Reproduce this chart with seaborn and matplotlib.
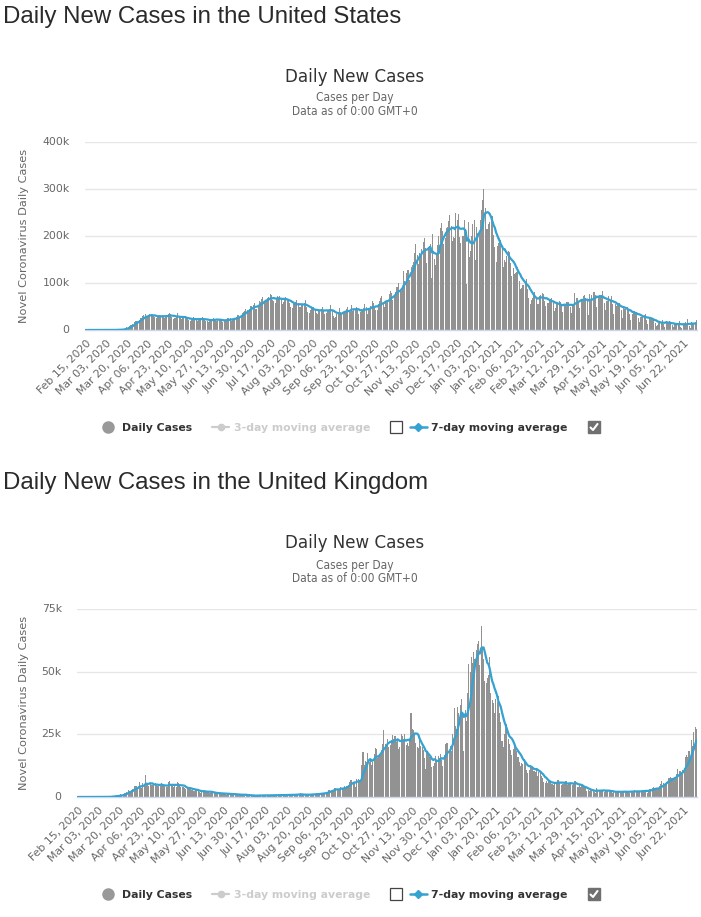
import os
import numpy as np
import pandas as pd
import matplotlib
matplotlib.use("Agg")
import matplotlib.pyplot as plt
import matplotlib.font_manager as fm
from matplotlib.lines import Line2D
import seaborn as sns

# ---------------- data ----------------
START_DATE = "2020-02-15"
TICK_STEP = 17

# US daily new cases, thousands (one row = one week, Sat..Fri)
US_DAILY_K = [
    0, 0, 0, 0, 0, 0, 0,
    0, 0, 0, 0, 0, 0, 0.01,
    0.01, 0.01, 0.02, 0.02, 0.03, 0.05, 0.07,
    0.1, 0.1, 0.2, 0.3, 0.4, 0.5, 0.7,
    0.8, 0.8, 1.2, 1.8, 2.6, 4.5, 5.6,
    6.8, 9.3, 10.2, 11.1, 12.8, 17.9, 19.1,
    20.0, 19.0, 21.0, 25.5, 26.2, 29.8, 32.1,
    33.3, 27.0, 30.0, 31.3, 33.0, 33.5, 32.4,
    29.8, 27.5, 25.0, 26.6, 29.8, 32.5, 31.0,
    32.0, 26.9, 26.0, 27.4, 30.0, 35.0, 36.0,
    33.6, 27.0, 23.8, 24.7, 26.0, 30.7, 36.0,
    29.4, 24.9, 23.4, 24.6, 25.5, 28.8, 27.1,
    25.6, 20.3, 18.6, 22.1, 21.2, 28.7, 26.3,
    24.3, 19.1, 21.4, 20.9, 22.7, 28.3, 25.0,
    22.5, 19.4, 18.3, 17.5, 21.2, 23.4, 24.4,
    25.6, 20.1, 20.8, 20.2, 20.5, 23.4, 22.8,
    22.4, 17.2, 18.3, 19.6, 22.4, 24.6, 26.0,
    24.9, 19.0, 21.9, 24.0, 26.3, 28.4, 32.0,
    32.0, 26.1, 31.7, 36.4, 38.0, 41.4, 45.3,
    42.5, 40.8, 44.5, 50.9, 52.1, 54.1, 57.0,
    45.3, 44.0, 51.7, 61.4, 60.0, 65.5, 71.0,
    61.4, 59.0, 63.1, 67.6, 70.2, 75.7, 73.7,
    63.4, 61.8, 58.0, 65.1, 72.6, 70.9, 73.3,
    66.3, 55.5, 60.2, 63.6, 70.3, 66.9, 66.2,
    58.5, 48.3, 46.3, 54.4, 54.5, 58.9, 63.1,
    56.6, 48.3, 48.1, 52.6, 54.0, 57.0, 64.3,
    49.6, 38.7, 36.8, 43.5, 46.9, 44.5, 48.3,
    45.0, 35.9, 35.1, 41.0, 42.5, 45.4, 48.9,
    42.4, 35.1, 37.2, 40.1, 43.4, 44.4, 52.4,
    41.4, 30.1, 24.7, 28.7, 34.2, 38.0, 47.4,
    37.3, 34.9, 35.4, 38.6, 40.4, 44.5, 48.4,
    41.0, 38.5, 53.3, 40.0, 43.5, 44.0, 48.3,
    43.9, 34.9, 37.9, 43.6, 40.5, 47.3, 55.0,
    48.1, 35.0, 43.6, 45.5, 51.8, 60.8, 57.3,
    48.7, 43.6, 43.4, 54.7, 61.1, 67.1, 71.5,
    56.7, 49.9, 60.3, 62.6, 64.7, 76.2, 83.8,
    79.3, 63.1, 71.8, 80.2, 90.6, 91.5, 99.8,
    85.3, 84.0, 91.5, 125.0, 104.0, 121.5, 128.0,
    128.0, 107.0, 134.0, 139.0, 144.0, 163.0, 184.0,
    159.0, 140.0, 163.0, 162.0, 173.0, 187.0, 195.0,
    174.0, 142.0, 176.0, 179.0, 182.0, 110.0, 205.0,
    151.0, 139.0, 164.0, 180.0, 200.0, 218.0, 227.0,
    210.0, 183.0, 195.0, 217.0, 220.0, 231.0, 245.0,
    222.0, 190.0, 198.0, 196.0, 249.0, 235.0, 246.0,
    198.0, 185.0, 200.0, 200.0, 234.0, 214.0, 98.0,
    230.0, 156.0, 168.0, 199.0, 225.0, 235.0, 150.0,
    220.0, 206.0, 205.0, 234.0, 256.0, 277.0, 301.0,
    260.0, 214.0, 214.0, 225.0, 230.0, 235.0, 242.0,
    202.0, 177.0, 145.0, 178.0, 185.0, 196.0, 191.0,
    173.0, 133.0, 150.0, 145.0, 158.0, 168.0, 166.0,
    143.0, 114.0, 132.0, 120.0, 121.0, 124.0, 135.0,
    105.0, 88.0, 90.0, 95.0, 96.0, 103.0, 109.0,
    88.0, 68.0, 55.0, 64.0, 69.0, 76.0, 80.0,
    70.0, 55.0, 56.0, 73.0, 74.0, 78.0, 77.0,
    62.0, 51.0, 58.0, 57.0, 67.0, 67.0, 68.0,
    59.0, 41.0, 46.0, 56.0, 57.0, 62.0, 59.0,
    51.0, 38.0, 54.0, 55.0, 59.0, 60.0, 59.0,
    50.0, 37.0, 54.0, 54.0, 78.0, 68.0, 68.0,
    61.0, 47.0, 67.0, 61.0, 72.0, 74.0, 68.0,
    65.0, 32.0, 77.0, 62.0, 75.0, 80.0, 80.0,
    74.0, 50.0, 69.0, 74.0, 75.0, 74.0, 82.0,
    57.0, 43.0, 62.0, 62.0, 73.0, 64.0, 72.0,
    55.0, 34.0, 55.0, 52.0, 55.0, 58.0, 57.0,
    43.0, 25.0, 52.0, 45.0, 47.0, 49.0, 43.0,
    34.0, 21.0, 34.0, 40.0, 41.0, 38.0, 38.0,
    25.0, 17.0, 27.0, 28.0, 31.0, 31.0, 34.0,
    22.0, 12.0, 25.0, 24.0, 25.0, 24.0, 23.0,
    14.0, 8.0, 10.0, 20.0, 19.0, 17.0, 21.0,
    13.0, 7.0, 19.0, 16.0, 16.0, 19.0, 14.0,
    10.0, 6.0, 13.0, 13.0, 15.0, 14.0, 19.0,
    7.0, 4.0, 14.0, 13.0, 16.0, 13.0, 23.0,
    8.0, 5.0, 17.0, 14.0, 15.0, 16.0, 21.0,
]

# UK daily new cases, thousands (one row = one week, Sat..Fri)
UK_DAILY_K = [
    0, 0, 0, 0, 0, 0, 0,
    0, 0, 0, 0, 0, 0.003, 0.005,
    0.003, 0.012, 0.004, 0.011, 0.034, 0.029, 0.048,
    0.043, 0.067, 0.048, 0.052, 0.083, 0.134, 0.117,
    0.342, 0.251, 0.152, 0.407, 0.676, 0.643, 0.714,
    1.035, 0.665, 0.967, 1.427, 1.452, 2.129, 2.885,
    2.546, 2.433, 2.619, 3.009, 4.324, 4.244, 4.450,
    3.735, 5.903, 3.802, 3.634, 5.491, 4.344, 8.681,
    5.233, 5.288, 4.342, 5.252, 4.603, 4.617, 5.599,
    5.525, 4.676, 4.301, 4.451, 4.583, 5.386, 4.913,
    4.463, 4.309, 3.996, 4.076, 6.032, 6.201, 4.806,
    4.339, 3.985, 4.406, 4.002, 6.111, 5.614, 4.649,
    3.896, 3.923, 3.877, 3.403, 3.242, 3.446, 3.560,
    3.450, 3.534, 2.684, 2.412, 2.472, 2.615, 2.959,
    2.96, 2.01, 1.63, 1.89, 2.00, 2.61, 2.45,
    2.45, 1.94, 1.57, 1.61, 1.87, 1.81, 1.65,
    1.56, 1.33, 1.21, 1.47, 1.43, 1.54, 1.41,
    1.51, 1.06, 0.96, 1.28, 1.11, 1.22, 1.35,
    1.30, 0.96, 0.89, 0.92, 0.65, 1.12, 1.01,
    0.89, 0.90, 0.81, 0.69, 0.83, 0.58, 0.62,
    0.62, 0.52, 0.35, 0.58, 0.63, 0.51, 0.64,
    0.82, 0.65, 0.53, 0.54, 0.54, 0.64, 0.69,
    0.83, 0.73, 0.58, 0.45, 0.77, 0.76, 0.77,
    0.77, 0.75, 0.69, 0.58, 0.76, 0.85, 0.88,
    0.74, 0.74, 0.94, 0.67, 0.89, 0.95, 0.87,
    0.76, 1.06, 0.82, 1.15, 1.01, 0.81, 1.44,
    1.08, 0.71, 0.71, 0.73, 0.81, 1.18, 1.03,
    1.29, 1.04, 0.85, 0.85, 1.05, 1.52, 1.28,
    1.11, 1.72, 1.41, 1.28, 1.50, 1.74, 1.94,
    1.81, 2.99, 2.95, 2.46, 2.66, 2.92, 3.54,
    3.50, 3.33, 2.62, 3.11, 3.99, 3.39, 3.68,
    4.42, 3.90, 4.37, 4.93, 6.18, 6.63, 6.87,
    6.04, 5.69, 4.04, 7.14, 7.11, 6.91, 6.97,
    12.87, 17.96, 12.59, 14.54, 14.16, 17.54, 13.86,
    15.17, 12.87, 13.97, 17.23, 19.72, 18.98, 15.65,
    16.17, 16.98, 18.80, 21.33, 26.69, 21.24, 20.53,
    23.01, 19.79, 20.89, 22.89, 24.70, 23.06, 24.41,
    21.92, 23.25, 18.95, 20.02, 25.18, 24.14, 23.29,
    24.96, 20.57, 21.35, 20.41, 22.95, 33.47, 27.30,
    26.86, 24.96, 21.36, 20.05, 19.61, 22.92, 20.25,
    19.88, 18.66, 15.45, 11.30, 18.21, 17.56, 16.02,
    15.87, 12.16, 12.33, 13.43, 16.17, 14.88, 16.30,
    15.54, 17.27, 14.72, 12.28, 16.58, 20.96, 21.67,
    21.50, 18.45, 20.26, 18.45, 25.16, 35.38, 28.51,
    27.05, 35.93, 33.36, 36.80, 39.24, 32.73, 18.43,
    34.69, 30.50, 41.39, 53.14, 50.02, 55.89, 53.29,
    57.73, 54.99, 58.78, 60.92, 62.32, 52.62, 68.05,
    59.94, 54.94, 46.17, 45.53, 47.53, 48.68, 55.76,
    41.35, 38.60, 37.54, 33.36, 38.91, 37.89, 40.26,
    33.55, 30.00, 22.20, 20.09, 25.31, 28.68, 29.08,
    23.28, 21.09, 18.61, 16.84, 19.20, 20.63, 19.11,
    18.26, 15.85, 14.10, 12.36, 13.49, 13.01, 15.14,
    13.31, 10.97, 9.77, 10.63, 12.72, 12.06, 12.03,
    10.41, 9.83, 10.64, 8.49, 9.94, 9.98, 8.52,
    7.43, 6.04, 5.46, 6.39, 5.77, 6.57, 6.04,
    5.18, 5.18, 4.71, 5.77, 5.93, 6.75, 6.61,
    5.53, 4.62, 5.09, 5.29, 5.76, 6.40, 4.80,
    5.59, 5.31, 5.34, 4.80, 5.38, 6.40, 6.19,
    3.86, 3.86, 4.65, 4.05, 4.48, 4.05, 3.40,
    3.42, 2.30, 2.76, 2.38, 2.98, 2.46, 2.86,
    1.95, 1.73, 3.57, 2.47, 2.49, 2.67, 2.82,
    2.59, 1.88, 2.96, 2.52, 2.40, 2.62, 2.06,
    2.05, 1.71, 2.06, 1.95, 2.17, 2.38, 2.48,
    1.65, 1.67, 2.36, 1.95, 2.28, 2.51, 2.03,
    1.91, 1.77, 2.56, 2.00, 2.55, 2.66, 2.19,
    1.93, 1.98, 2.24, 2.41, 2.70, 2.87, 2.50,
    2.44, 1.78, 2.44, 3.24, 3.18, 3.54, 3.94,
    3.40, 3.24, 3.08, 3.17, 4.33, 5.27, 6.24,
    5.77, 5.34, 5.68, 6.05, 7.54, 7.39, 8.13,
    7.74, 7.49, 7.74, 7.67, 9.06, 11.01, 10.48,
    10.32, 9.28, 10.63, 11.63, 16.14, 16.70, 15.81,
    18.27, 14.88, 22.87, 20.48, 26.07, 27.99, 27.13,
]

US_YTICKS = [0, 100000, 200000, 300000, 400000]
US_YTICKLABELS = ["0", "100k", "200k", "300k", "400k"]
UK_YTICKS = [0, 25000, 50000, 75000]
UK_YTICKLABELS = ["0", "25k", "50k", "75k"]

US_TITLE = "Daily New Cases in the United States"
UK_TITLE = "Daily New Cases in the United Kingdom"
CHART_TITLE = "Daily New Cases"
SUBTITLE_1 = "Cases per Day"
SUBTITLE_2 = "Data as of 0:00 GMT+0"
Y_LABEL = "Novel Coronavirus Daily Cases"
LEGEND_LABELS = ["Daily Cases", "3-day moving average", "7-day moving average"]

# ---------------- style ----------------
sns.set_style("white")
plt.rcParams["font.family"] = ["DejaVu Sans"]

W, H = 701, 917
BAR_COLOR = "#929292"
LEGEND_DOT = "#999999"
LINE_COLOR = "#35a2d1"
TEXT_DARK = "#333333"
TEXT_GRAY = "#666666"


def find_font(names):
    for f in fm.fontManager.ttflist:
        if os.path.basename(f.fname) in names:
            return f.fname
    return None


cond_path = find_font(["DejaVuSansCondensed.ttf"]) or find_font(
    ["LiberationSansNarrow-Regular.ttf"])
if cond_path:
    def cond_fp(size):
        return fm.FontProperties(fname=cond_path, size=size)
else:
    def cond_fp(size):
        return fm.FontProperties(family="DejaVu Sans", size=size * 0.9)

fig = plt.figure(figsize=(W / 100, H / 100), dpi=100)
fig.patch.set_facecolor("white")


def fx(x):
    return x / W


def fy(y):
    return 1 - y / H


def make_frame(values_k):
    dates = pd.date_range(START_DATE, periods=len(values_k), freq="D")
    df = pd.DataFrame({"idx": np.arange(len(values_k)),
                       "date": dates,
                       "cases": np.array(values_k) * 1000.0})
    df["avg7"] = df["cases"].rolling(7, min_periods=1).mean()
    return df


def draw_panel(values_k, yticks, yticklabels, title, dy, left):
    df = make_frame(values_k)
    n = len(df)
    top, bottom, right = 142 + dy, 330 + dy, 697
    ax = fig.add_axes([fx(left), fy(bottom), (right - left) / W,
                       (bottom - top) / H])
    sns.barplot(data=df, x="idx", y="cases", native_scale=True, ax=ax,
                color=BAR_COLOR, saturation=1, width=0.85, errorbar=None,
                linewidth=0)
    sns.lineplot(data=df, x="idx", y="avg7", ax=ax, color=LINE_COLOR,
                 linewidth=1.6, zorder=5)
    ax.set_xlim(-0.5, n - 0.5)
    ax.set_ylim(yticks[0], yticks[-1])
    ax.set_yticks(yticks)
    ax.set_yticklabels(yticklabels)
    ticks = list(range(0, n, TICK_STEP))
    ax.set_xticks(ticks)
    ax.set_xticklabels([df["date"][t].strftime("%b %d, %Y") for t in ticks],
                       rotation=45, ha="right", va="top",
                       rotation_mode="anchor")
    ax.tick_params(axis="x", length=0, pad=6, labelsize=7.8,
                   labelcolor=TEXT_GRAY)
    ax.tick_params(axis="y", length=0, pad=11, labelsize=7.8,
                   labelcolor=TEXT_GRAY)
    for lab in ax.get_yticklabels():
        lab.set_verticalalignment("center")
    ax.set_xlabel("")
    ax.set_ylabel("")
    ax.yaxis.grid(True, color="#e6e6e6", linewidth=1)
    ax.xaxis.grid(False)
    ax.set_axisbelow(True)
    for s in ["top", "left", "right"]:
        ax.spines[s].set_visible(False)
    ax.spines["bottom"].set_color("#ccd6eb")
    ax.spines["bottom"].set_linewidth(1)
    ax.set_facecolor("white")
    if ax.get_legend():
        ax.get_legend().remove()

    # texts
    fig.text(fx(3), fy(22.5 + dy), title, fontsize=17.3,
             family=["Liberation Sans", "DejaVu Sans"], color="#2a2a2a",
             ha="left", va="baseline")
    fig.text(fx(355), fy(81.5 + dy), CHART_TITLE,
             fontproperties=cond_fp(13.3), color=TEXT_DARK, ha="center",
             va="baseline")
    fig.text(fx(355), fy(101.5 + dy), SUBTITLE_1, fontproperties=cond_fp(8.6),
             color=TEXT_GRAY, ha="center", va="baseline")
    fig.text(fx(355), fy(115 + dy), SUBTITLE_2, fontproperties=cond_fp(8.6),
             color=TEXT_GRAY, ha="center", va="baseline")
    fig.text(fx(24), fy(236 + dy), Y_LABEL, rotation=90, fontsize=8.2,
             color=TEXT_GRAY, ha="center", va="center")

    # legend
    ly = fy(427 + dy)
    fig.add_artist(Line2D([fx(108)], [ly], marker="o", ms=8,
                          color=LEGEND_DOT, lw=0, transform=fig.transFigure))
    fig.text(fx(122), ly, LEGEND_LABELS[0], fontsize=7.8, weight="bold",
             color=TEXT_DARK, ha="left", va="center_baseline")
    fig.add_artist(Line2D([fx(212), fx(229)], [ly, ly], color="#cccccc",
                          lw=1.6, transform=fig.transFigure))
    fig.add_artist(Line2D([fx(220.5)], [ly], marker="o", ms=4.5,
                          color="#cccccc", lw=0, transform=fig.transFigure))
    fig.text(fx(234), ly, LEGEND_LABELS[1], fontsize=7.8, weight="bold",
             color="#cccccc", ha="left", va="center_baseline")
    fig.add_artist(Line2D([fx(396)], [ly], marker="s", ms=8.6,
                          mfc="white", mec="#444444", mew=0.9, lw=0,
                          transform=fig.transFigure))
    fig.add_artist(Line2D([fx(410), fx(427)], [ly, ly], color=LINE_COLOR,
                          lw=1.8, transform=fig.transFigure))
    fig.add_artist(Line2D([fx(418.5)], [ly], marker="D", ms=4,
                          color=LINE_COLOR, lw=0, transform=fig.transFigure))
    fig.text(fx(431), ly, LEGEND_LABELS[2], fontsize=7.8, weight="bold",
             color=TEXT_DARK, ha="left", va="center_baseline")
    fig.add_artist(Line2D([fx(594)], [ly], marker="s", ms=8.8,
                          mfc="#707070", mec="#707070", lw=0,
                          transform=fig.transFigure))
    fig.add_artist(Line2D([fx(590.5), fx(593), fx(597.5)],
                          [fy(427.5 + dy), fy(430 + dy), fy(424 + dy)],
                          color="white", lw=1.5,
                          transform=fig.transFigure))
    return ax


draw_panel(US_DAILY_K, US_YTICKS, US_YTICKLABELS, US_TITLE, 0, 85)
draw_panel(UK_DAILY_K, UK_YTICKS, UK_YTICKLABELS, UK_TITLE, 467, 77)

fig.savefig("out.png", dpi=100, facecolor="white")
